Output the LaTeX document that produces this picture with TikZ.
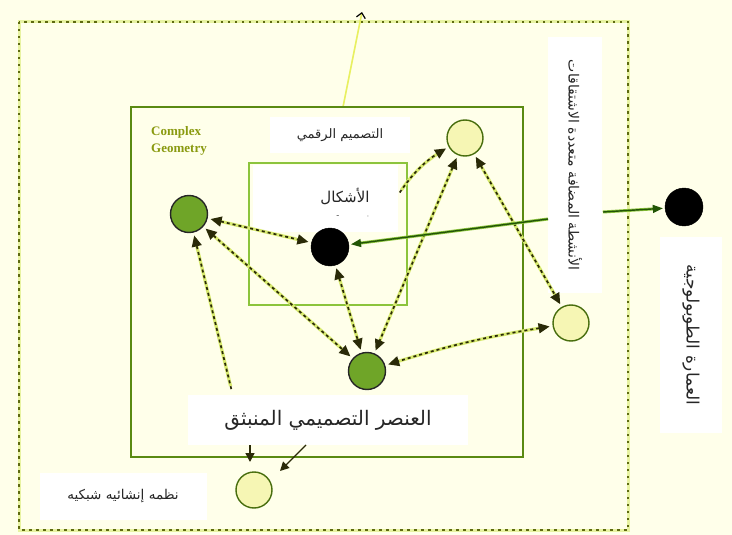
\documentclass[tikz,border=0pt]{standalone}
\usepackage{fontspec}
\newfontfamily\arabicfont[Script=Arabic]{DejaVu Sans}
\newfontfamily\tnrfont{Liberation Serif}
\TeXXeTstate=1
\usetikzlibrary{arrows.meta}
\definecolor{bgc}{HTML}{FFFFEA}
\definecolor{midc}{HTML}{5A8A12}
\definecolor{innc}{HTML}{8CC43C}
\definecolor{dkc}{HTML}{2A2A08}
\definecolor{haloc}{HTML}{D8EA70}
\definecolor{greenfill}{HTML}{6FA528}
\definecolor{yelfill}{HTML}{F6F6B4}
\definecolor{yelline}{HTML}{E8F060}
\definecolor{cgc}{HTML}{8A9A10}
\definecolor{dotc}{HTML}{5E6A10}
\newcommand{\artxt}[1]{{\arabicfont\beginR #1\endR}}
\begin{document}
\begin{tikzpicture}[x=1pt,y=1pt,
  >={Triangle[length=11pt,width=10pt]},
  gnode/.style={circle, fill=greenfill, draw=black!85, line width=1.4pt, minimum size=37pt, inner sep=0pt},
  bnode/.style={circle, fill=black, draw=black, minimum size=38pt, inner sep=0pt},
  ynode/.style={circle, fill=yelfill, draw=midc!80!black, line width=1.4pt, minimum size=36pt, inner sep=0pt},
  wbox/.style={fill=white, draw=none, inner sep=0pt, text=black!85},
  conn/.style={draw=dkc, line width=1.7pt, dash pattern=on 3pt off 3pt, shorten <=3pt, shorten >=3pt,
    preaction={draw=haloc, line width=3.2pt, solid, arrows=-, shorten <=6pt, shorten >=6pt}},
  solidc/.style={draw=dkc!80!green, line width=1.4pt, -{Triangle[length=10pt,width=8pt]}, shorten >=2pt,
    preaction={draw=innc, line width=3pt, arrows=-, shorten >=10pt}}
]
\useasboundingbox (0,0) rectangle (732,-535);
\fill[bgc] (0,0) rectangle (732,-535);

% outer dotted frame
\draw[haloc!60!bgc, line width=3pt] (19,-22) rectangle (628,-530);
\draw[dotc, line width=2.2pt, dash pattern=on 2.5pt off 4.5pt] (19,-22) rectangle (628,-530);

% yellow line to top
\coordinate (topend) at (362,-12);
\coordinate (topstart) at (343,-107);
\draw[yelline, line width=1.6pt, -{Straight Barb[color=black, length=5pt, width=9pt, line width=1.2pt]}] (topstart) -- (topend);

% middle box
\draw[midc, line width=2pt] (131,-107) rectangle (523,-457);
% inner box
\fill[white] (253,-165) rectangle (398,-232);
\draw[innc, line width=2pt] (249,-163) rectangle (407,-305);

% labels
\node[font=\tnrfont\bfseries\fontsize{13}{17}\selectfont, text=cgc, align=left, anchor=north west, inner sep=0pt] (cg) at (151,-126) {Complex\\Geometry};
\node[wbox, minimum width=140pt, minimum height=36pt, font=\fontsize{13}{15}\selectfont] (ddl) at (340,-135) {\artxt{التصميم الرقمي}};
\node[inner sep=0pt, text=black!85, font=\fontsize{15}{17}\selectfont] (shp) at (345,-196) {\artxt{الأشكال}};
\node[inner sep=0pt, font=\fontsize{8}{9}\selectfont] (m1) at (338,-217) {-};
\node[inner sep=0pt, font=\fontsize{8}{9}\selectfont] (m2) at (368,-217) {$\cdot$};
\node[wbox, minimum width=280pt, minimum height=50pt, font=\fontsize{20}{22}\selectfont] (eml) at (328,-420) {\artxt{العنصر التصميمي المنبثق}};
\node[wbox, minimum width=167pt, minimum height=47pt, font=\fontsize{13.5}{15}\selectfont] (nsl) at (123,-496) {\artxt{نظمه إنشائيه شبكيه}};
\node[wbox, rotate=-90, minimum width=256pt, minimum height=54pt, font=\fontsize{14}{16}\selectfont] (vt) at (575,-165) {\artxt{الأنشطة المضافة متعددة الاشتقاقات}};
\node[wbox, rotate=-90, minimum width=196pt, minimum height=62pt, font=\fontsize{17}{19}\selectfont] (ta) at (691,-335) {\artxt{العمارة الطوبولوجية}};

% nodes
\node[gnode] (lg) at (189,-214) {};
\node[bnode] (bk) at (330,-247) {};
\node[ynode] (ty) at (465,-138) {};
\node[ynode] (ry) at (571,-323) {};
\node[gnode] (bg) at (367,-371) {};
\node[bnode] (fb) at (684,-207) {};
\node[ynode] (by) at (254,-490) {};

% helper coordinates
\coordinate (lblup) at (232,-392);
\coordinate (innr) at (398,-195);
\coordinate (vtl) at (548,-219);
\coordinate (vtr) at (603,-212);
\coordinate (em1) at (250,-445);
\coordinate (em1e) at (250,-462);
\coordinate (em2) at (306,-445);
\coordinate (em2e) at (280,-471);

% dashed connectors
\draw[conn, <->] (lg) -- (bk);
\draw[conn, <->] (lg) -- (bg);
\draw[conn, ->] (lblup) -- (lg);
\draw[conn, <->] (bk) -- (bg);
\draw[conn, <->] (ty) -- (bg);
\draw[conn, ->] (innr) to[bend left=12] (ty);
\draw[conn, <->] (ty) -- (ry);
\draw[conn, <->] (ry) to[bend right=4] (bg);

% solid connectors
\draw[solidc] (vtl) -- (bk);
\draw[solidc] (vtr) -- (fb);

% arrows to bottom node
\draw[dkc, line width=1.3pt, -{Triangle[length=9pt,width=9pt]}] (em1) -- (em1e);
\draw[dkc, line width=1.3pt, -{Triangle[length=9pt,width=9pt]}] (em2) -- (em2e);
\end{tikzpicture}
\end{document}
